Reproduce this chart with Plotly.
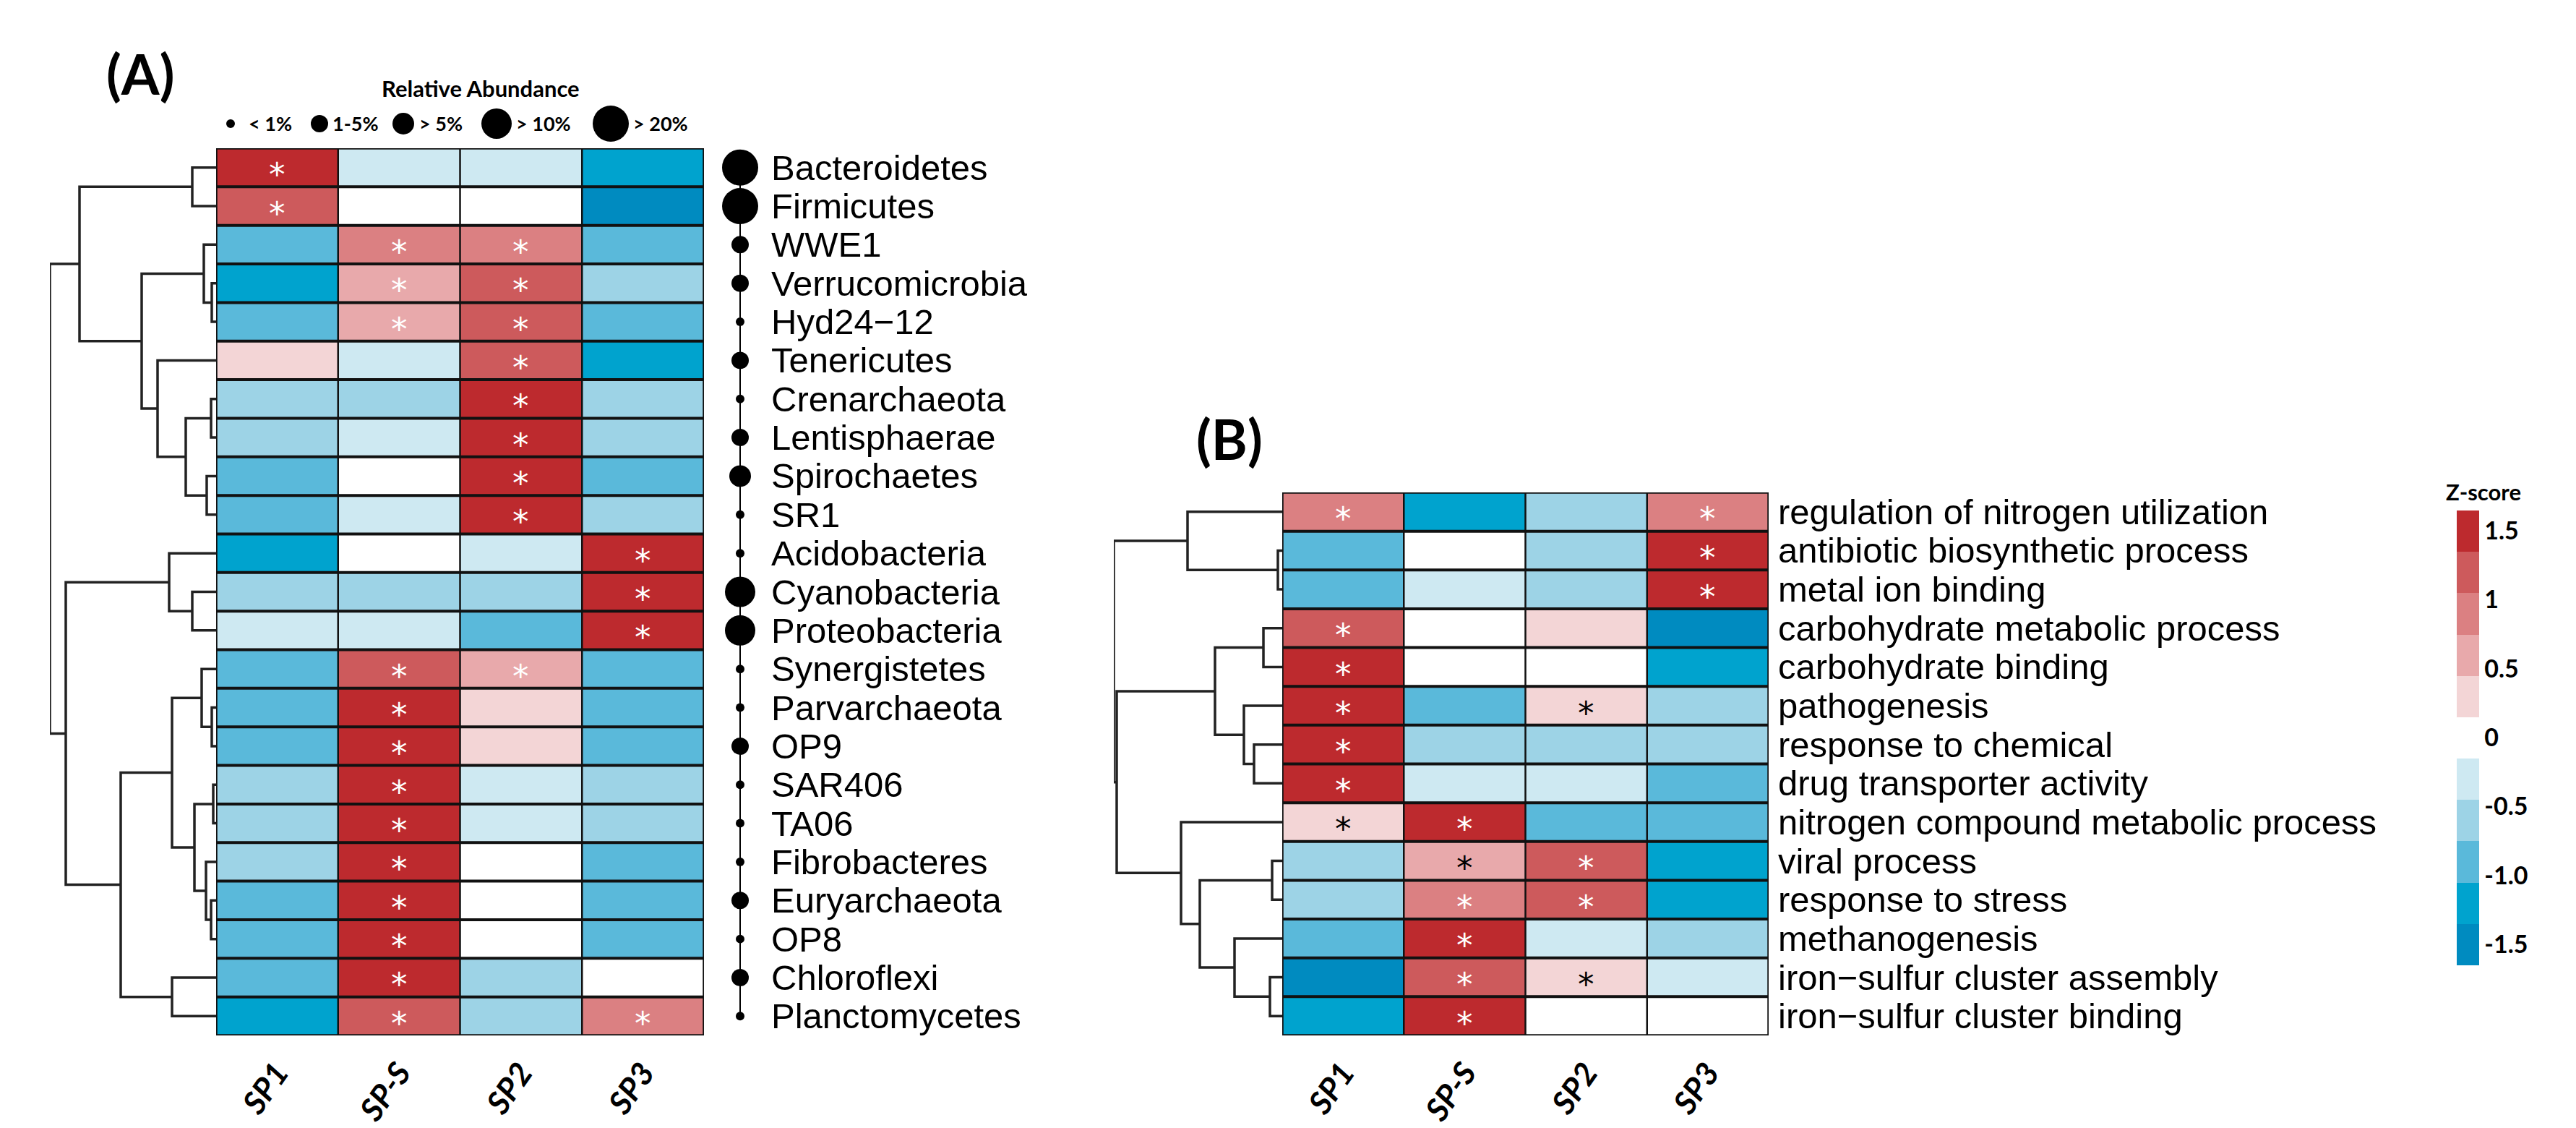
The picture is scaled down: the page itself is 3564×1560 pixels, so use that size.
import plotly.graph_objects as go

W, H = 3564, 1560

# ---------------- data ----------------
SAMPLES = ["SP1", "SP-S", "SP2", "SP3"]

TAXA = ["Bacteroidetes", "Firmicutes", "WWE1", "Verrucomicrobia", "Hyd24\u221212",
        "Tenericutes", "Crenarchaeota", "Lentisphaerae", "Spirochaetes", "SR1",
        "Acidobacteria", "Cyanobacteria", "Proteobacteria", "Synergistetes",
        "Parvarchaeota", "OP9", "SAR406", "TA06", "Fibrobacteres", "Euryarchaeota",
        "OP8", "Chloroflexi", "Planctomycetes"]

TAXA_Z = [
    [1.5, -0.3, -0.3, -1.2],
    [1.2, 0.0, 0.0, -1.5],
    [-0.9, 0.9, 0.9, -0.9],
    [-1.2, 0.6, 1.2, -0.6],
    [-0.9, 0.6, 1.2, -0.9],
    [0.3, -0.3, 1.2, -1.2],
    [-0.6, -0.6, 1.5, -0.6],
    [-0.6, -0.3, 1.5, -0.6],
    [-0.9, 0.0, 1.5, -0.9],
    [-0.9, -0.3, 1.5, -0.6],
    [-1.2, 0.0, -0.3, 1.5],
    [-0.6, -0.6, -0.6, 1.5],
    [-0.3, -0.3, -0.9, 1.5],
    [-0.9, 1.2, 0.6, -0.9],
    [-0.9, 1.5, 0.3, -0.9],
    [-0.9, 1.5, 0.3, -0.9],
    [-0.6, 1.5, -0.3, -0.6],
    [-0.6, 1.5, -0.3, -0.6],
    [-0.6, 1.5, 0.0, -0.9],
    [-0.9, 1.5, 0.0, -0.9],
    [-0.9, 1.5, 0.0, -0.9],
    [-0.9, 1.5, -0.6, 0.0],
    [-1.2, 1.2, -0.6, 0.9],
]

# 0 = none, 1 = white asterisk, 2 = black asterisk
TAXA_SIG = [
    [1, 0, 0, 0], [1, 0, 0, 0], [0, 1, 1, 0], [0, 1, 1, 0], [0, 1, 1, 0],
    [0, 0, 1, 0], [0, 0, 1, 0], [0, 0, 1, 0], [0, 0, 1, 0], [0, 0, 1, 0],
    [0, 0, 0, 1], [0, 0, 0, 1], [0, 0, 0, 1], [0, 1, 1, 0], [0, 1, 0, 0],
    [0, 1, 0, 0], [0, 1, 0, 0], [0, 1, 0, 0], [0, 1, 0, 0], [0, 1, 0, 0],
    [0, 1, 0, 0], [0, 1, 0, 0], [0, 1, 0, 1],
]

TAXA_ABUND = [">20%", ">20%", "1-5%", "1-5%", "<1%", "1-5%", "<1%", "1-5%", ">5%", "<1%",
              "<1%", ">10%", ">10%", "<1%", "<1%", "1-5%", "<1%", "<1%", "<1%", "1-5%",
              "<1%", "1-5%", "<1%"]

ABUND_LEVELS = ["<1%", "1-5%", ">5%", ">10%", ">20%"]
ABUND_TEXT = ["< 1%", "1-5%", "> 5%", "> 10%", "> 20%"]

GO_TERMS = ["regulation of nitrogen utilization", "antibiotic biosynthetic process",
            "metal ion binding", "carbohydrate metabolic process", "carbohydrate binding",
            "pathogenesis", "response to chemical", "drug transporter activity",
            "nitrogen compound metabolic process", "viral process", "response to stress",
            "methanogenesis", "iron\u2212sulfur cluster assembly", "iron\u2212sulfur cluster binding"]

GO_Z = [
    [0.9, -1.2, -0.6, 0.9],
    [-0.9, 0.0, -0.6, 1.5],
    [-0.9, -0.3, -0.6, 1.5],
    [1.2, 0.0, 0.3, -1.5],
    [1.5, 0.0, 0.0, -1.2],
    [1.5, -0.9, 0.3, -0.6],
    [1.5, -0.6, -0.6, -0.6],
    [1.5, -0.3, -0.3, -0.9],
    [0.3, 1.5, -0.9, -0.9],
    [-0.6, 0.6, 1.2, -1.2],
    [-0.6, 0.9, 1.2, -1.2],
    [-0.9, 1.5, -0.3, -0.6],
    [-1.5, 1.2, 0.3, -0.3],
    [-1.2, 1.5, 0.0, 0.0],
]

GO_SIG = [
    [1, 0, 0, 1], [0, 0, 0, 1], [0, 0, 0, 1], [1, 0, 0, 0], [1, 0, 0, 0],
    [1, 0, 2, 0], [1, 0, 0, 0], [1, 0, 0, 0], [2, 1, 0, 0], [0, 2, 1, 0],
    [0, 1, 1, 0], [0, 1, 0, 0], [0, 1, 2, 0], [0, 1, 0, 0],
]

# dendrograms: (left, right, merge height); leaves are row indices
TAXA_TREE = (
    ((0, 1, 33),
     ((2, (3, 4, 6), 17),
      (5, ((6, 7, 7), (8, 9, 13), 42), 81), 103), 189),
    ((10, (11, 12, 33), 65),
     (((13, (14, 15, 6), 20),
       ((16, 17, 4), (18, (19, 20, 7), 14), 30), 61),
      (21, 22, 61), 132), 208),
    230)

GO_TREE = (
    (0, (1, 2, 6), 131),
    (((3, 4, 26), (5, (6, 7, 39), 53), 93),
     (8, ((9, 10, 14), (11, (12, 13, 17), 66), 114), 140), 229),
    233)

# ---------------- styling ----------------
BIN_COLORS = ["#008BC0", "#00A3CE", "#5AB9DA", "#9DD3E6", "#CEE9F2", "#FFFFFF",
              "#F3D5D6", "#E8A9AB", "#DB8082", "#CD5A5C", "#BD2A2E"]
ZMIN, ZMAX = -1.65, 1.65
COLORSCALE = []
for i, c in enumerate(BIN_COLORS):
    COLORSCALE.append([i / len(BIN_COLORS), c])
    COLORSCALE.append([(i + 1) / len(BIN_COLORS), c])

SIZE_MAP = {"<1%": 12, "1-5%": 24, ">5%": 30, ">10%": 42, ">20%": 50}
LEGEND_DOT_PX = [311, 434, 550, 679, 837]
LEGEND_TXT_PX = [334, 450, 570, 704, 866]

LABEL_FONT = dict(family="Liberation Sans, Arial", size=49, color="black")
BOLD_FONT = "Lato, Open Sans, sans-serif"
STAR_FONT = "DejaVu Sans"


def px_x(p):
    return p / W


def px_y(p):
    return 1 - p / H


def dendro(tree):
    xs, ys = [], []

    def walk(node):
        if isinstance(node, int):
            return float(node), 0.0
        left, right, h = node
        yl, hl = walk(left)
        yr, hr = walk(right)
        xs.extend([hl, h, h, hr, None])
        ys.extend([yl, yl, yr, yr, None])
        return (yl + yr) / 2, h

    walk(tree)
    return xs, ys


fig = go.Figure()

# heatmaps
fig.add_trace(go.Heatmap(z=TAXA_Z, x=list(range(len(SAMPLES))), y=list(range(len(TAXA))),
                         colorscale=COLORSCALE, zmin=ZMIN, zmax=ZMAX, showscale=False,
                         xaxis="x", yaxis="y", hoverinfo="skip"))
fig.add_trace(go.Heatmap(z=GO_Z, x=list(range(len(SAMPLES))), y=list(range(len(GO_TERMS))),
                         colorscale=COLORSCALE, zmin=ZMIN, zmax=ZMAX, showscale=True,
                         xaxis="x2", yaxis="y2", hoverinfo="skip",
                         colorbar=dict(x=px_x(3391), xanchor="left", xpad=0, ypad=0,
                                       y=px_y(1012), yanchor="middle",
                                       len=629, lenmode="pixels",
                                       thickness=31, thicknessmode="pixels",
                                       outlinewidth=0, ticks="",
                                       tickvals=[1.5, 1, 0.5, 0, -0.5, -1, -1.5],
                                       ticktext=["1.5", "1", "0.5", "0", "-0.5", "-1.0", "-1.5"],
                                       tickfont=dict(family=BOLD_FONT, size=34, color="black",
                                                     weight="bold"))))

# dendrograms
dx, dy = dendro(TAXA_TREE)
fig.add_trace(go.Scatter(x=dx, y=dy, mode="lines", xaxis="x3", yaxis="y",
                         line=dict(color="#222222", width=3.5), cliponaxis=False,
                         hoverinfo="skip", showlegend=False))
dx, dy = dendro(GO_TREE)
fig.add_trace(go.Scatter(x=dx, y=dy, mode="lines", xaxis="x4", yaxis="y2",
                         line=dict(color="#222222", width=3.5), cliponaxis=False,
                         hoverinfo="skip", showlegend=False))

# relative abundance dots
fig.add_trace(go.Scatter(x=[0, 0], y=[0, len(TAXA) - 1], mode="lines", xaxis="x5", yaxis="y",
                         line=dict(color="#000000", width=2), cliponaxis=False,
                         hoverinfo="skip", showlegend=False))
fig.add_trace(go.Scatter(x=[0] * len(TAXA), y=list(range(len(TAXA))), mode="markers",
                         xaxis="x5", yaxis="y",
                         marker=dict(color="#000000", opacity=1,
                                     size=[SIZE_MAP[a] for a in TAXA_ABUND],
                                     line=dict(width=0)),
                         cliponaxis=False, hoverinfo="skip", showlegend=False))
# size legend
fig.add_trace(go.Scatter(x=LEGEND_DOT_PX, y=[0] * len(ABUND_LEVELS), mode="markers",
                         xaxis="x6", yaxis="y6",
                         marker=dict(color="#000000", opacity=1,
                                     size=[SIZE_MAP[a] for a in ABUND_LEVELS],
                                     line=dict(width=0)),
                         cliponaxis=False, hoverinfo="skip", showlegend=False))

annotations = []
shapes = []


def grid(xref, yref, nrows, ncols):
    for i in range(nrows - 1):
        shapes.append(dict(type="line", xref=xref, yref=yref, x0=-0.5, x1=ncols - 0.5,
                           y0=i + 0.5, y1=i + 0.5, line=dict(color="#111111", width=4),
                           layer="above"))
    for j in range(ncols - 1):
        shapes.append(dict(type="line", xref=xref, yref=yref, x0=j + 0.5, x1=j + 0.5,
                           y0=-0.5, y1=nrows - 0.5, line=dict(color="#111111", width=2.5),
                           layer="above"))
    shapes.append(dict(type="rect", xref=xref, yref=yref, x0=-0.5, x1=ncols - 0.5,
                       y0=-0.5, y1=nrows - 0.5, line=dict(color="#111111", width=3.5),
                       layer="above"))


def stars(xref, yref, sig):
    for i, row in enumerate(sig):
        for j, s in enumerate(row):
            if s:
                annotations.append(dict(x=j, y=i, xref=xref, yref=yref, text="*",
                                        xanchor="center", yanchor="middle",
                                        showarrow=False, yshift=-10, borderpad=0,
                                        font=dict(family=STAR_FONT, size=45,
                                                  color="white" if s == 1 else "black")))


grid("x", "y", len(TAXA), len(SAMPLES))
grid("x2", "y2", len(GO_TERMS), len(SAMPLES))
stars("x", "y", TAXA_SIG)
stars("x2", "y2", GO_SIG)

for i, t in enumerate(TAXA):
    annotations.append(dict(x=px_x(1057), y=i, xref="paper", yref="y", text=t,
                            xanchor="left", yanchor="middle", showarrow=False, font=LABEL_FONT))
for i, t in enumerate(GO_TERMS):
    annotations.append(dict(x=px_x(2450), y=i, xref="paper", yref="y2", text=t,
                            xanchor="left", yanchor="middle", showarrow=False, font=LABEL_FONT))

for xp, t in zip(LEGEND_TXT_PX, ABUND_TEXT):
    annotations.append(dict(x=px_x(xp), y=px_y(163), xref="paper", yref="paper", text=t,
                            xanchor="left", yanchor="middle", showarrow=False,
                            font=dict(family=BOLD_FONT, size=27, color="black", weight="bold")))


def title(xp, yp, text, size):
    annotations.append(dict(x=px_x(xp), y=px_y(yp), xref="paper", yref="paper",
                            text=text, showarrow=False, xanchor="center", yanchor="middle",
                            font=dict(family=BOLD_FONT, size=size, color="black",
                                      weight="bold")))


title(657, 114, "Relative Abundance", 31)
title(3428, 672, "Z-score", 31)
title(186, 93, "(A)", 76)
title(1693, 598, "(B)", 76)

tick_font = dict(family=BOLD_FONT, size=44, color="black", weight="bold", style="italic")
xcommon = dict(range=[-0.5, len(SAMPLES) - 0.5], tickvals=list(range(len(SAMPLES))),
               ticktext=SAMPLES, tickangle=-55, tickfont=tick_font, ticks="",
               showgrid=False, zeroline=False, showline=False, ticklabelstandoff=16)
hidden = dict(visible=False, showgrid=False, zeroline=False)

fig.update_layout(
    width=W, height=H, margin=dict(l=0, r=0, t=0, b=0),
    paper_bgcolor="white", plot_bgcolor="rgba(0,0,0,0)",
    showlegend=False, hovermode=False,
    font=dict(family="Liberation Sans, Arial", color="black"),
    xaxis=dict(domain=[px_x(291), px_x(966)], anchor="y", **xcommon),
    yaxis=dict(domain=[px_y(1424), px_y(197)], range=[len(TAXA) - 0.5, -0.5], anchor="x",
               **hidden),
    xaxis2=dict(domain=[px_x(1766), px_x(2439)], anchor="y2", **xcommon),
    yaxis2=dict(domain=[px_y(1424), px_y(673)], range=[len(GO_TERMS) - 0.5, -0.5],
                anchor="x2", **hidden),
    xaxis3=dict(domain=[px_x(61), px_x(291)], range=[230, 0], anchor="y", **hidden),
    xaxis4=dict(domain=[px_x(1533), px_x(1766)], range=[233, 0], anchor="y2", **hidden),
    xaxis5=dict(domain=[px_x(986), px_x(1046)], range=[-1, 1], anchor="y", **hidden),
    xaxis6=dict(domain=[0, 1], range=[0, W], anchor="y6", **hidden),
    yaxis6=dict(domain=[px_y(185), px_y(141)], range=[-1, 1], anchor="x6", **hidden),
    annotations=annotations,
    shapes=shapes,
)

fig.write_html("out.html")
